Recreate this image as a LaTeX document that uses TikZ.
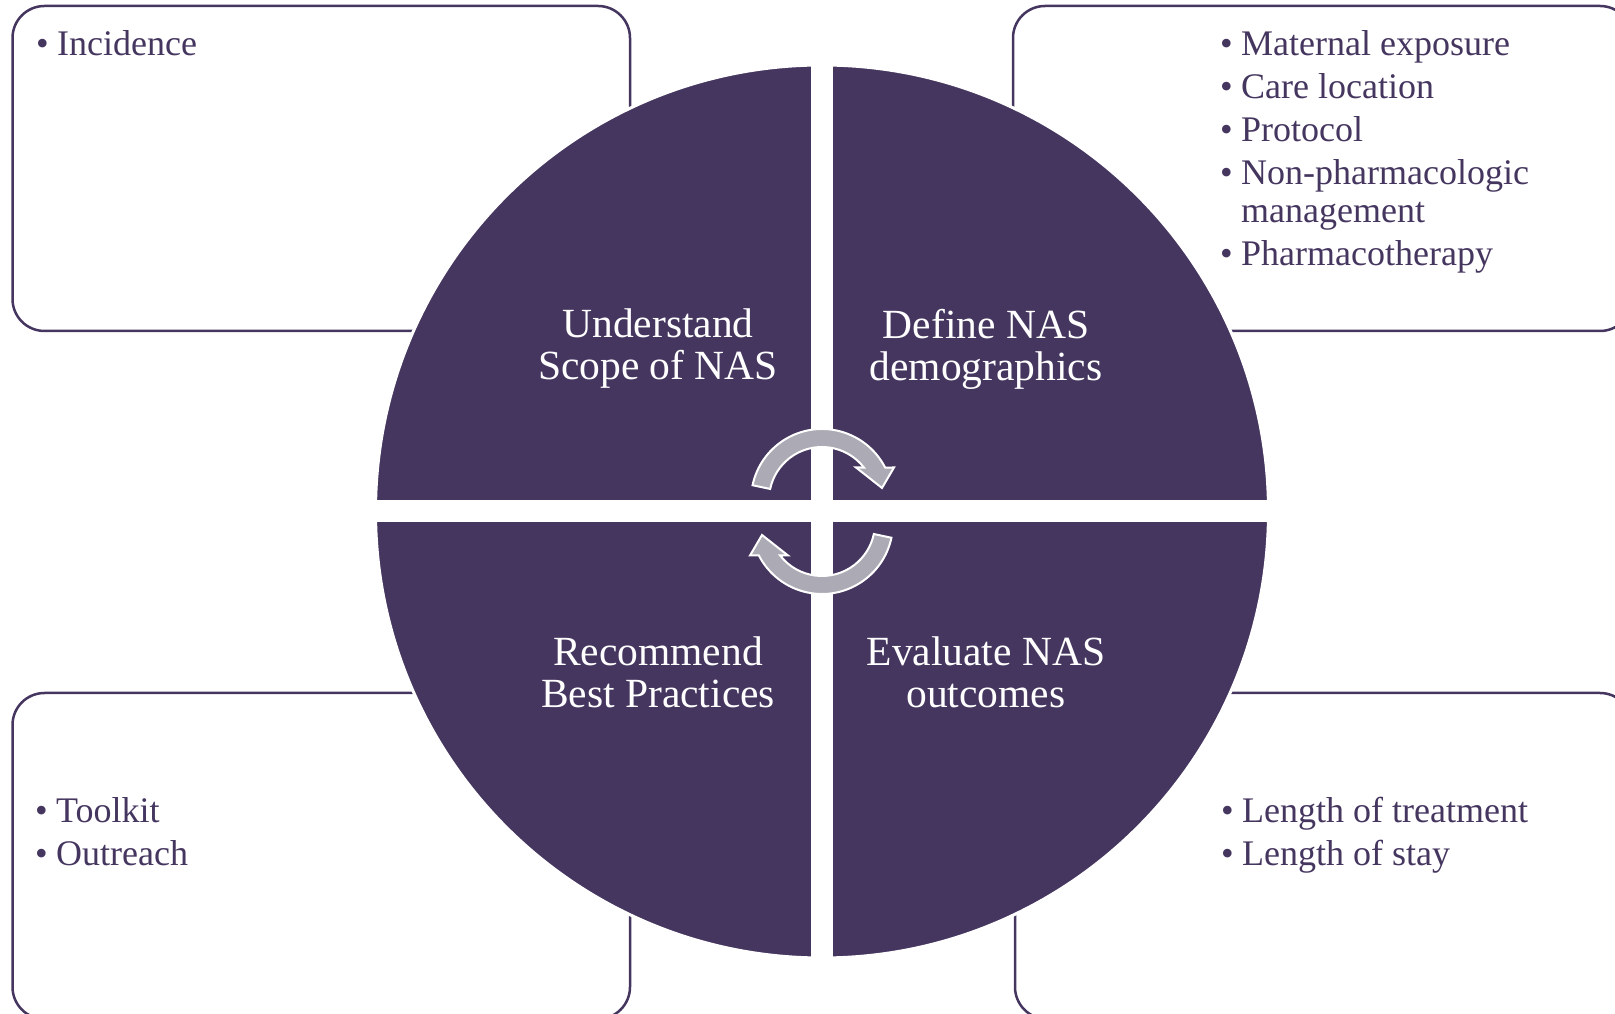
\documentclass[tikz,border=0pt]{standalone}
\usepackage{fontspec}
\setmainfont{Liberation Serif}
\usetikzlibrary{positioning,shapes.geometric}
\definecolor{nasPurple}{RGB}{69,54,95}
\definecolor{nasGray}{RGB}{172,170,180}
\tikzset
{
    infobox/.style    = {rectangle, rounded corners=32, draw=nasPurple, line width=2.5, inner sep=0},
    hub/.style        = {circle, fill=nasPurple, draw=white, line width=3, minimum size=893, inner sep=0},
    quadtext/.style   = {align=center, text=white, font=\fontsize{41.5}{42}\selectfont, inner sep=0, anchor=north},
    bulletlist/.style = {align=left, text=nasPurple, font=\fontsize{36}{38}\selectfont, inner sep=0, anchor=north west},
    cyclearrow/.style = {fill=nasGray, draw=white, line width=2}
}
\newcommand\bitem{\makebox[21pt][l]{•}}

\begin{document}
\begin{tikzpicture}[x=1pt, y=1pt]
   \newcommand\QUADDX{164}
   \newcommand\QUADUP{202.5}
   \newcommand\QUADDN{125.5}
   \newcommand\GAP{11}
   \useasboundingbox (0,0) rectangle (1615,1014);

   \node (btl) [infobox, minimum width=617.5, minimum height=325] at (321.25, 845.5) {};
   \node (btr) [infobox, minimum width=619,   minimum height=325] at (1322.5, 845.5) {};
   \node (bbl) [infobox, minimum width=617.5, minimum height=326] at (321.25, 158)   {};
   \node (bbr) [infobox, minimum width=617,   minimum height=326] at (1323.5, 158)   {};

   \node (c) [hub] at (822, 502.5) {};
   \fill[white] ([xshift=-\GAP]c.north) rectangle ([xshift=\GAP]c.south);
   \fill[white] ([yshift=-\GAP]c.west)  rectangle ([yshift=\GAP]c.east);

   \node (qtl) [quadtext] at ([shift=({-\QUADDX,  \QUADUP})]c) {Understand\\Scope of NAS};
   \node (qtr) [quadtext] at ([shift=({ \QUADDX,  \QUADUP})]c) {Define NAS\\demographics};
   \node (qbl) [quadtext] at ([shift=({-\QUADDX, -\QUADDN})]c) {Recommend\\Best Practices};
   \node (qbr) [quadtext] at ([shift=({ \QUADDX, -\QUADDN})]c) {Evaluate NAS\\outcomes};

   \begin{scope}[shift={([yshift=11.5]c.center)}]
      \filldraw[cyclearrow] (168:71) arc[start angle=168, end angle=27.2, radius=71]
         -- (72,32.5) -- (60,12) -- (34,32.5) -- (37.8:53)
         arc[start angle=37.8, end angle=168, radius=53] -- cycle;
   \end{scope}
   \begin{scope}[shift={([yshift=-11.5]c.center)}, rotate=180]
      \filldraw[cyclearrow] (168:71) arc[start angle=168, end angle=27.2, radius=71]
         -- (72,32.5) -- (60,12) -- (34,32.5) -- (37.8:53)
         arc[start angle=37.8, end angle=168, radius=53] -- cycle;
   \end{scope}

   \node (ltl) [bulletlist] at (36, 984)   {\bitem Incidence};
   \node (ltr) [bulletlist] at (1220, 984) {\bitem Maternal exposure\\[5pt]
                                           \bitem Care location\\[5pt]
                                           \bitem Protocol\\[5pt]
                                           \bitem Non-pharmacologic\\
                                           \hspace*{21pt}management\\[5pt]
                                           \bitem Pharmacotherapy};
   \node (lbl) [bulletlist] at (35, 217)   {\bitem Toolkit\\[5pt]
                                           \bitem Outreach};
   \node (lbr) [bulletlist] at (1221, 217) {\bitem Length of treatment\\[5pt]
                                           \bitem Length of stay};
\end{tikzpicture}
\end{document}
